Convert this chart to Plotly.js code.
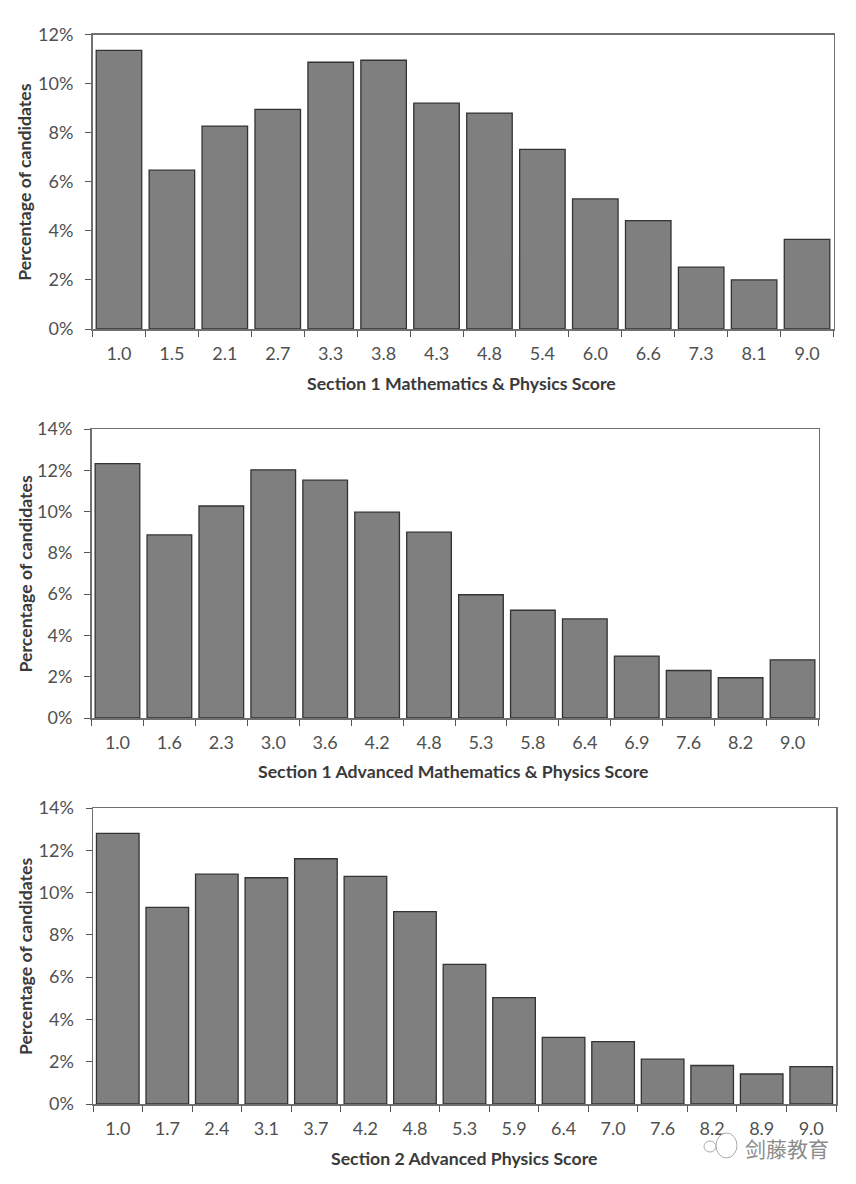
<!DOCTYPE html>
<html>
<head>
<meta charset="utf-8">
<script src="https://cdn.plot.ly/plotly-3.0.1.min.js"></script>
<style>html,body{margin:0;padding:0;background:#fff}#c{width:856px;height:1184px}</style>
</head>
<body>
<div id="c"></div>
<script>
const labelsA = ["1.0","1.5","2.1","2.7","3.3","3.8","4.3","4.8","5.4","6.0","6.6","7.3","8.1","9.0"];
const valuesA = [11.35,6.47,8.27,8.95,10.87,10.95,9.2,8.8,7.32,5.3,4.42,2.52,2.0,3.65];
const labelsB = ["1.0","1.6","2.3","3.0","3.6","4.2","4.8","5.3","5.8","6.4","6.9","7.6","8.2","9.0"];
const valuesB = [12.32,8.87,10.27,12.02,11.52,9.97,9.0,5.97,5.22,4.8,3.0,2.3,1.95,2.82];
const labelsC = ["1.0","1.7","2.4","3.1","3.7","4.2","4.8","5.3","5.9","6.4","7.0","7.6","8.2","8.9","9.0"];
const valuesC = [12.8,9.3,10.87,10.7,11.6,10.77,9.1,6.6,5.03,3.15,2.95,2.12,1.82,1.42,1.77];
const titleA = "Section 1 Mathematics & Physics Score";
const titleB = "Section 1 Advanced Mathematics & Physics Score";
const titleC = "Section 2 Advanced Physics Score";
const yTitle = "Percentage of candidates";

const W = 856, H = 1184;
const font = "Lato, 'Open Sans', sans-serif";
const panels = [
  {labels:labelsA, values:valuesA, title:titleA, max:12, l:92.5, r:833.5, t:34.5, b:329, xt:383, xc:461.5, yt:25},
  {labels:labelsB, values:valuesB, title:titleB, max:14, l:91.5, r:818.5, t:429, b:718, xt:771, xc:453.5, yt:25},
  {labels:labelsC, values:valuesC, title:titleC, max:14, l:93, r:836, t:808, b:1104, xt:1158, xc:463.5, yt:25}
];

const traces = [];
const layout = {
  width: W, height: H, autosize:false,
  margin:{l:0,r:0,t:0,b:0,pad:0},
  paper_bgcolor:"#fff", plot_bgcolor:"#fff",
  showlegend:false, bargap:0.14,
  font:{family:font,color:"#444"},
  annotations:[], shapes:[]
};
panels.forEach((p,i)=>{
  const s = i===0?"":String(i+1);
  traces.push({type:"bar",x:p.labels,y:p.values,xaxis:"x"+s,yaxis:"y"+s,
    marker:{color:"#7f7f7f",line:{color:"#333",width:1.3}},hoverinfo:"x+y"});
  const tv=[]; for(let v=0;v<=p.max;v+=2) tv.push(v);
  layout["xaxis"+s]={domain:[p.l/W,p.r/W],anchor:"y"+s,type:"category",
    categoryorder:"array",categoryarray:p.labels,tickson:"boundaries",
    ticks:"outside",ticklen:6,tickcolor:"#555",tickwidth:1,showgrid:false,zeroline:false,
    showline:true,linecolor:"#707070",linewidth:1.5,mirror:true,ticklabelstandoff:8,
    tickfont:{family:font,size:18,color:"#505050"},tickangle:0,fixedrange:true};
  layout["yaxis"+s]={domain:[1-p.b/H,1-p.t/H],anchor:"x"+s,range:[0,p.max],
    tickvals:tv,ticktext:tv.map(v=>v+"%"),
    ticks:"outside",ticklen:6,tickcolor:"#555",tickwidth:1,showgrid:false,zeroline:false,
    showline:true,linecolor:"#707070",linewidth:1.5,mirror:true,ticklabelstandoff:8,
    tickfont:{family:font,size:18,color:"#505050"},fixedrange:true};
  layout.annotations.push({xref:"paper",yref:"paper",x:p.xc/W,y:1-p.xt/H,
    text:"<b>"+p.title.replace("&","&amp;")+"</b>",showarrow:false,xanchor:"center",yanchor:"middle",
    font:{family:font,size:17.7,color:"#3a3a3a"}});
  layout.annotations.push({xref:"paper",yref:"paper",x:p.yt/W,y:1-(p.t+p.b)/2/H,
    text:"<b>"+yTitle+"</b>",textangle:-90,showarrow:false,xanchor:"center",yanchor:"middle",
    font:{family:font,size:17.7,color:"#3a3a3a"}});
});
// watermark
const px=(x0,y0,x1,y1)=>({type:"circle",xref:"paper",yref:"paper",x0:x0/W,x1:x1/W,y0:1-y1/H,y1:1-y0/H,
  line:{color:"#aaa",width:1},fillcolor:"rgba(255,255,255,0.9)"});
layout.shapes.push(px(716,1133,737,1158),px(704,1141,716,1152));
layout.annotations.push({xref:"paper",yref:"paper",x:787/W,y:1-1148/H,text:"剑藤教育",showarrow:false,
  xanchor:"center",yanchor:"middle",font:{family:"'Noto Sans CJK SC'",size:21,color:"#8c8c8c"}});
Plotly.newPlot("c",traces,layout,{staticPlot:true,displayModeBar:false});
</script>
</body>
</html>
